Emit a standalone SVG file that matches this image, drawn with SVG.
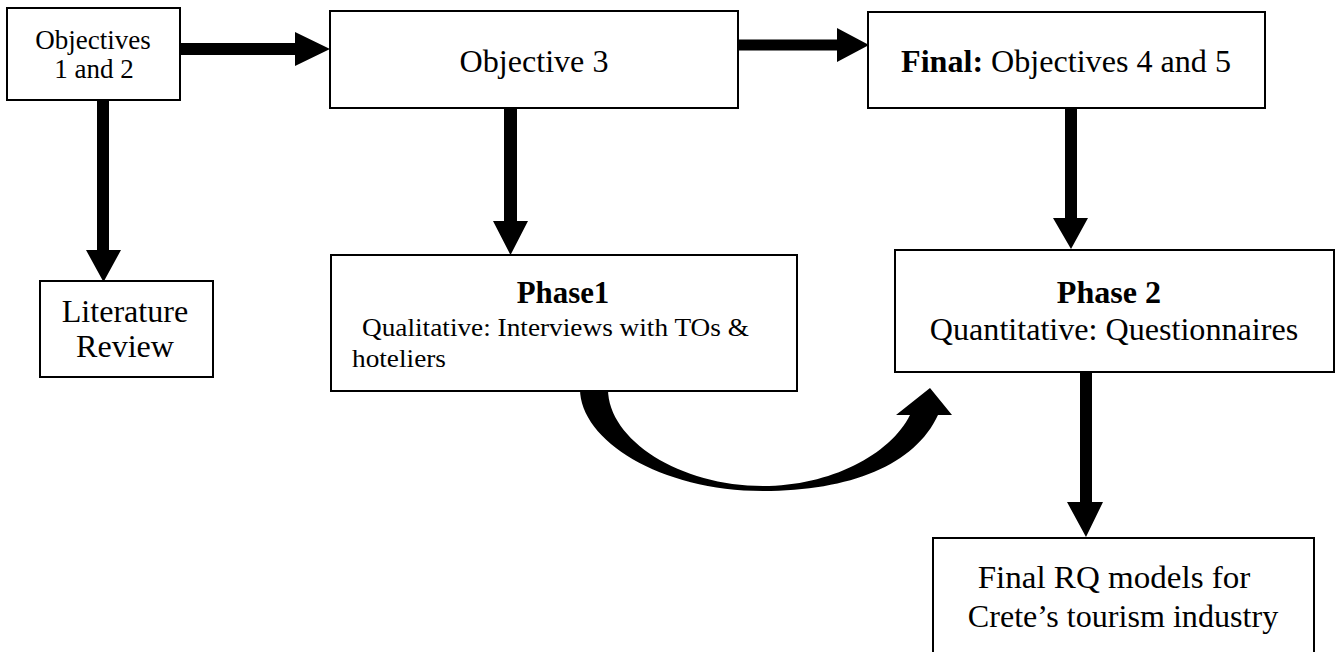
<svg xmlns="http://www.w3.org/2000/svg" width="1337" height="652" viewBox="0 0 1337 652">
<style>
.box{fill:#fff;stroke:#000;stroke-width:2}
.t{font-family:"Liberation Serif","Times New Roman",serif;font-size:31.5px;fill:#000}
.s{font-size:26.5px}
.m{font-size:26px}
.b{font-weight:bold}
.arr{fill:#000;stroke:none}
</style>
<rect width="1337" height="652" fill="#fff"/>
<g id="connectors">
<path class="arr" d="M180 43 H295 V32 L330 49 L295 66 V55 H180 Z"/>
<path class="arr" d="M738 39.5 H837 V28 L869 45 L837 62 V50.5 H738 Z"/>
<path class="arr" d="M97 100 V250 H86 L103.5 282 L121 250 H109 V100 Z"/>
<path class="arr" d="M504 108 V221 H493 L510.5 255 L528 221 H517 V108 Z"/>
<path class="arr" d="M1065 108 V218 H1053 L1071 249 L1088 218 H1077 V108 Z"/>
<path class="arr" d="M1080 372 V502 H1067 L1086 537 L1103 502 H1092 V372 Z"/>
<path class="arr" d="M580 389 L608 389 C608 440 680 486 763 486 C830 486 890 455 910 415 L896 415 L930 388 L952 415 L938 415 C915 465 850 491 763 491 C660 491 580 440 580 389 Z"/>
</g>
<g id="obj12">
<rect class="box" x="7" y="8" width="173" height="92"/>
<text class="t s" text-anchor="middle" transform="translate(93 49) scale(1.02 1)">Objectives</text>
<text class="t s" text-anchor="middle" transform="translate(94 78) scale(1.02 1)">1 and 2</text>
</g>
<g id="obj3">
<rect class="box" x="330" y="11" width="408" height="97"/>
<text class="t" text-anchor="middle" transform="translate(534 72) scale(1.02 1)">Objective 3</text>
</g>
<g id="final">
<rect class="box" x="868" y="12" width="397" height="96"/>
<text class="t" text-anchor="middle" transform="translate(1066 72) scale(1.02 1)"><tspan class="b">Final:</tspan> Objectives 4 and 5</text>
</g>
<g id="litreview">
<rect class="box" x="40" y="281" width="173" height="96"/>
<text class="t" text-anchor="middle" transform="translate(125 322) scale(1.02 1)">Literature</text>
<text class="t" text-anchor="middle" transform="translate(125 357) scale(1.02 1)">Review</text>
</g>
<g id="phase1">
<rect class="box" x="331" y="255" width="466" height="136"/>
<text class="t b" text-anchor="middle" transform="translate(563 303) scale(0.98 1)">Phase1</text>
<text class="t m" transform="translate(362 336) scale(1.05 1)">Qualitative: Interviews with TOs &amp;</text>
<text class="t m" transform="translate(352 367) scale(1.05 1)">hoteliers</text>
</g>
<g id="phase2">
<rect class="box" x="895" y="250" width="439" height="122"/>
<text class="t b" text-anchor="middle" transform="translate(1109 303) scale(1.02 1)">Phase 2</text>
<text class="t" text-anchor="middle" transform="translate(1114 340) scale(1.02 1)">Quantitative: Questionnaires</text>
</g>
<g id="finalrq">
<rect class="box" x="933" y="538" width="381" height="130"/>
<text class="t" text-anchor="middle" transform="translate(1114 588) scale(1.05 1)">Final RQ models for</text>
<text class="t" text-anchor="middle" transform="translate(1123 627) scale(1.02 1)">Crete’s tourism industry</text>
</g>
</svg>
